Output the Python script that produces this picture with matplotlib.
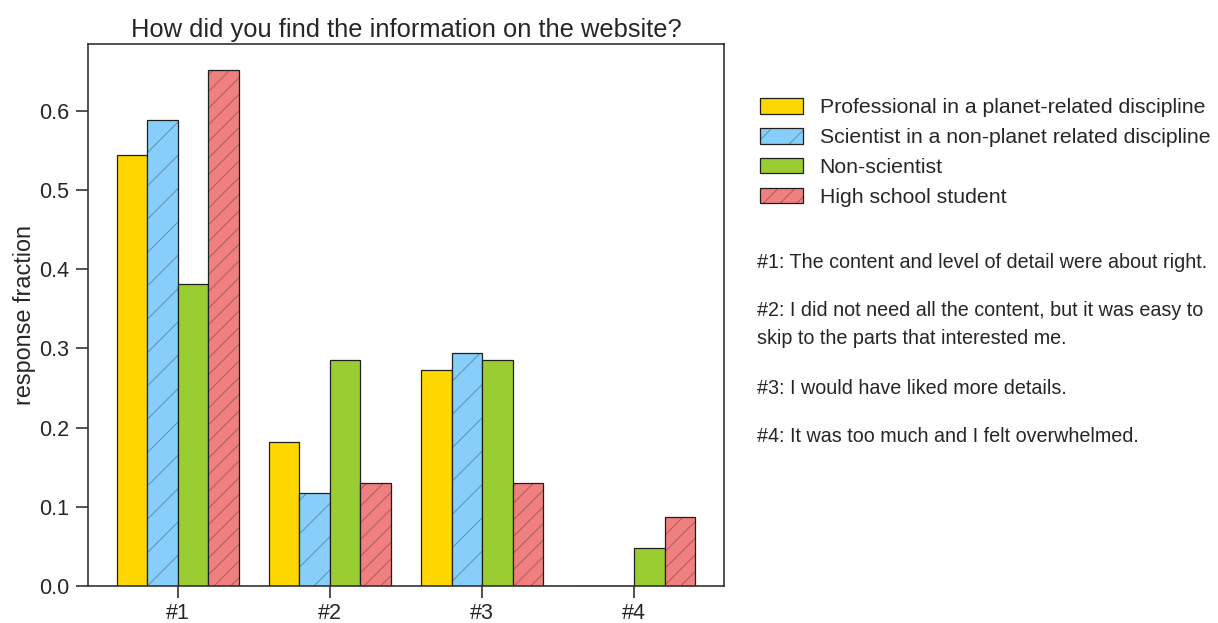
import matplotlib
matplotlib.use("Agg")
import matplotlib.pyplot as plt
from matplotlib.legend_handler import HandlerTuple
import numpy as np
import seaborn as sns

sns.set_style("ticks")
plt.rcParams['font.family'] = ['Liberation Sans', 'DejaVu Sans']
plt.rcParams['hatch.linewidth'] = 0.7

categories = ["#1", "#2", "#3", "#4"]
groups = ["Professional in a planet-related discipline",
          "Scientist in a non-planet related discipline",
          "Non-scientist",
          "High school student"]
professional = [0.545, 0.182, 0.273, 0.0]
scientist = [0.588, 0.118, 0.294, 0.0]
nonscientist = [0.381, 0.286, 0.286, 0.048]
highschool = [0.652, 0.130, 0.130, 0.087]
series = [professional, scientist, nonscientist, highschool]
colors = ["gold", "lightskyblue", "yellowgreen", "lightcoral"]
hatches = ["", "/", "", "//"]
notes = [
    ["#1: The content and level of detail were about right."],
    ["#2: I did not need all the content, but it was easy to",
     "skip to the parts that interested me."],
    ["#3: I would have liked more details."],
    ["#4: It was too much and I felt overwhelmed."],
]

TXT = "#262626"
fig = plt.figure(figsize=(12.18, 6.23), dpi=100)
ax = fig.add_axes([88/1218, 1-586/623, (724-88)/1218, (586-44)/623])

x = np.arange(len(categories))
w = 0.2
handles = []
for i, (vals, c, h, lab) in enumerate(zip(series, colors, hatches, groups)):
    pos = x + (i - 1.5) * w
    fill = ax.bar(pos, vals, w, color=c, hatch=h, edgecolor=(0.1, 0.1, 0.1, 0.35),
                  linewidth=0)
    outline = ax.bar(pos, vals, w, fill=False, edgecolor=(0.12, 0.12, 0.12),
                     linewidth=0.9)
    handles.append((fill, outline))

ax.set_xticks(x)
ax.set_xticklabels(categories)
ax.tick_params(labelsize=15.5, colors="#333333", labelcolor=TXT, length=8.5, width=1.2, pad=5)
ax.tick_params(axis="x", pad=3.5)
for s in ax.spines.values():
    s.set_color("#333333")
    s.set_linewidth(1.2)
ax.set_ylabel("response fraction", fontsize=16.8, color=TXT, labelpad=2)
ax.set_title("How did you find the information on the website?", fontsize=18.4, color=TXT, pad=5)

ax.legend(handles, groups, handler_map={tuple: HandlerTuple(ndivide=1)},
          loc="upper left", bbox_to_anchor=(741/1218, 1-79/623), bbox_transform=fig.transFigure,
          frameon=False, fontsize=15.3, handlelength=2.0, handleheight=0.75,
          labelspacing=0.5, handletextpad=0.8)

ys = [262, 310, 389, 437]
for para, y in zip(notes, ys):
    for j, line in enumerate(para):
        fig.text(757/1218, 1-(y + 28*j)/623, line, fontsize=14.2, va="center", ha="left", color=TXT)

fig.savefig("out.png", dpi=100)
